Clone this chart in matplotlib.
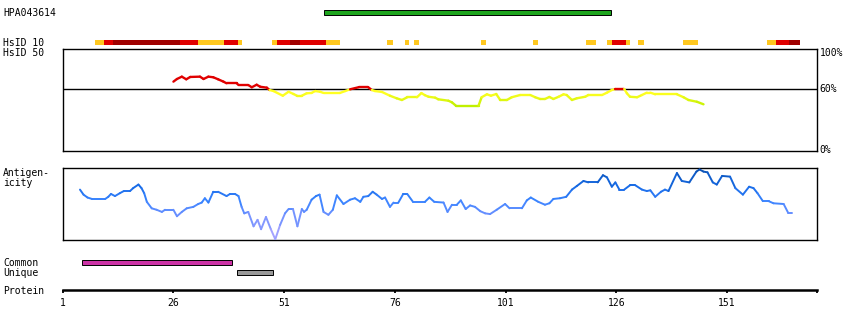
"""Protein feature overview: antibody target, HsID identity and antigenicity."""

import matplotlib

matplotlib.use("Agg")
import matplotlib.pyplot as plt
import numpy as np
from matplotlib.collections import LineCollection
from matplotlib.colors import LinearSegmentedColormap, Normalize

W, H = 850, 330
X_LEFT, X_RIGHT = 62.7, 817.3  # pixel span of the residue axis
RES_MIN, RES_MAX = 1, 171.4

# antibody target region
hpa_label = "HPA043614"
hpa_start, hpa_end = 60.0, 124.8

# HsID 10 blocks (0 = yellow, 1 = red, 2 = dark red)
hsid10_start = [8.3, 10.3, 12.4, 27.5, 31.6, 37.4, 40.6,
                48.3, 49.4, 52.3, 54.6, 60.5,
                74.3, 78.3, 80.4, 95.4, 107.2, 119.1,
                124.0, 125.1, 128.3, 130.9, 141.1,
                160.1, 162.1, 165.1]
hsid10_end = [10.3, 12.4, 27.5, 31.6, 37.4, 40.6, 41.5,
              49.4, 52.3, 54.6, 60.5, 63.6,
              75.6, 79.3, 81.4, 96.5, 108.3, 121.4,
              125.1, 128.3, 129.1, 132.3, 144.5,
              162.1, 165.1, 167.4]
hsid10_level = [0, 1, 2, 1, 0, 1, 0,
                0, 1, 2, 1, 0,
                0, 0, 0, 0, 0, 0,
                0, 1, 0, 0, 0,
                0, 1, 2]

# HsID 50 identity (%)
hsid50_res = [26.0, 26.8, 27.9, 28.9, 29.8, 32.0, 32.8, 33.9, 35.0, 36.1,
              37.3, 38.0, 40.3, 40.7, 42.9, 43.7, 44.8, 45.6, 47.1, 47.7,
              48.6, 50.7, 52.0, 53.1, 53.9, 55.0, 56.1, 57.2, 58.0, 59.1,
              59.9, 63.6, 64.8, 65.9, 67.8, 70.0, 70.8, 71.5, 73.1, 74.9,
              76.4, 77.6, 78.8, 81.0, 82.0, 82.8, 83.6, 85.1, 85.8, 88.1,
              88.9, 89.8, 94.9, 95.6, 96.8, 97.7, 98.9, 99.8, 101.3, 102.4,
              104.3, 106.6, 107.7, 108.8, 109.9, 110.9, 111.8, 113.0, 114.1, 114.8,
              116.0, 117.1, 119.0, 119.7, 122.8, 123.9, 125.0, 125.8, 127.8, 128.4,
              129.1, 130.7, 131.8, 132.9, 133.7, 134.8, 139.7, 141.2, 142.3, 144.2,
              145.7]
hsid50_pct = [67.5, 70.1, 72.4, 69.8, 72.1, 72.4, 70.1, 72.4, 71.8, 69.8,
              67.5, 65.9, 65.9, 64.2, 64.2, 62.0, 64.5, 62.5, 61.6, 59.3,
              58.3, 53.7, 57.6, 55.4, 53.7, 53.7, 56.1, 56.4, 58.3, 57.6,
              56.4, 56.4, 58.3, 60.0, 62.0, 62.0, 59.3, 58.3, 57.4, 53.7,
              51.2, 49.5, 52.2, 52.2, 56.3, 54.2, 52.7, 51.8, 50.2, 48.8,
              47.2, 43.9, 43.9, 52.2, 55.1, 53.7, 55.4, 49.5, 49.5, 52.2,
              54.4, 54.4, 52.2, 50.5, 50.5, 52.5, 50.5, 52.7, 55.1, 54.4,
              49.5, 51.2, 52.7, 54.4, 54.4, 56.7, 59.3, 60.3, 60.3, 56.1,
              52.7, 52.2, 54.4, 56.7, 56.7, 55.1, 55.1, 52.2, 49.5, 47.8,
              45.3]

# antigenicity (relative 0..1)
antigen_res = [4.9, 5.7, 6.6, 7.6, 10.6, 11.3, 11.9, 12.8, 13.9, 14.8,
               16.2, 16.9, 18.1, 18.8, 19.4, 20.0, 21.1, 22.2, 23.4, 24.1,
               26.0, 26.8, 27.9, 29.0, 30.5, 31.6, 32.4, 33.1, 33.9, 35.0,
               36.1, 38.0, 38.8, 39.9, 40.7, 41.4, 42.0, 42.9, 44.1, 45.0,
               45.8, 46.9, 48.0, 49.0, 50.1, 51.2, 52.0, 53.0, 54.0, 55.0,
               55.5, 56.1, 57.2, 58.2, 59.0, 59.9, 61.0, 62.0, 62.9, 64.4,
               65.9, 67.0, 68.2, 68.9, 70.0, 71.0, 71.9, 73.1, 73.8, 74.9,
               75.7, 76.8, 77.9, 78.8, 80.1, 82.8, 83.8, 84.9, 87.0, 87.9,
               88.9, 90.0, 90.9, 92.0, 93.0, 94.1, 95.3, 96.4, 97.5, 99.0,
               100.9, 101.9, 104.7, 105.8, 106.7, 108.4, 109.9, 110.9, 111.8, 113.3,
               114.7, 116.0, 117.1, 118.6, 119.7, 121.8, 123.0, 123.9, 125.0, 125.8,
               126.7, 127.8, 129.1, 130.3, 131.8, 132.9, 133.7, 134.8, 136.1, 137.0,
               137.8, 139.7, 140.8, 142.5, 144.1, 144.8, 145.7, 146.6, 147.8, 148.7,
               149.9, 151.7, 152.9, 154.6, 156.0, 157.0, 157.9, 159.1, 160.4, 161.5,
               163.8, 164.8, 165.7]
antigen_val = [0.70, 0.63, 0.59, 0.57, 0.57, 0.60, 0.64, 0.61, 0.65, 0.68,
               0.68, 0.72, 0.77, 0.72, 0.65, 0.53, 0.44, 0.42, 0.39, 0.42,
               0.42, 0.33, 0.39, 0.44, 0.46, 0.50, 0.52, 0.58, 0.52, 0.67,
               0.67, 0.61, 0.64, 0.64, 0.61, 0.46, 0.37, 0.39, 0.19, 0.28,
               0.15, 0.32, 0.15, 0.01, 0.21, 0.37, 0.43, 0.43, 0.19, 0.43,
               0.39, 0.42, 0.56, 0.61, 0.63, 0.39, 0.35, 0.42, 0.62, 0.50,
               0.56, 0.58, 0.53, 0.60, 0.61, 0.67, 0.63, 0.57, 0.59, 0.46,
               0.52, 0.52, 0.64, 0.64, 0.53, 0.53, 0.59, 0.53, 0.52, 0.39,
               0.49, 0.49, 0.55, 0.43, 0.48, 0.46, 0.40, 0.37, 0.36, 0.42,
               0.50, 0.44, 0.44, 0.55, 0.59, 0.53, 0.49, 0.51, 0.57, 0.58,
               0.60, 0.70, 0.75, 0.82, 0.80, 0.80, 0.90, 0.87, 0.74, 0.80,
               0.70, 0.70, 0.76, 0.76, 0.70, 0.68, 0.69, 0.60, 0.67, 0.70,
               0.68, 0.93, 0.82, 0.80, 0.95, 0.98, 0.95, 0.94, 0.80, 0.77,
               0.89, 0.88, 0.72, 0.63, 0.74, 0.72, 0.65, 0.54, 0.54, 0.51,
               0.50, 0.38, 0.38]

# common / unique regions
common_start, common_end = 5.4, 39.3
unique_start, unique_end = 40.4, 48.4

tick_res = [1, 26, 51, 76, 101, 126, 151]

HSID10_COLORS = ["#ffc820", "#e00000", "#a00000"]
FONT = dict(family="DejaVu Sans Mono", fontsize=7, color="black")


def px_axes(fig, top, bottom):
    """Axes spanning the residue range between two pixel rows."""
    return fig.add_axes([X_LEFT / W, 1 - bottom / H,
                         (X_RIGHT - X_LEFT) / W, (bottom - top) / H])


def label(fig, x, y, s, **kw):
    fig.text(x / W, 1 - y / H, s, va="baseline", **FONT, **kw)


def segments(x, y):
    pts = np.column_stack([x, y])
    return np.stack([pts[:-1], pts[1:]], axis=1)


fig = plt.figure(figsize=(W / 100, H / 100), dpi=100)

# top track: antibody bar and HsID 10 blocks (pixel-like y, inverted)
ax_top = px_axes(fig, 0, 47)
ax_top.set_xlim(RES_MIN, RES_MAX)
ax_top.set_ylim(47, 0)
ax_top.axis("off")
ax_top.barh(12.3, hpa_end - hpa_start, left=hpa_start, height=4.4,
            color="#1ea51e", edgecolor="black", linewidth=0.7)
for s, e, lvl in zip(hsid10_start, hsid10_end, hsid10_level):
    ax_top.barh(42.5, e - s, left=s, height=5, color=HSID10_COLORS[lvl], linewidth=0)

# HsID 50 panel
ax_id = px_axes(fig, 48.5, 150.5)
ax_id.set_xlim(RES_MIN, RES_MAX)
ax_id.set_ylim(0, 100)
ax_id.set_xticks([])
ax_id.set_yticks([])
for sp in ax_id.spines.values():
    sp.set_linewidth(1.0)
ax_id.axhline(60, color="black", linewidth=1.0)
id_cmap = LinearSegmentedColormap.from_list("id", ["#c0f000", "#ffff22"])
id_seg = segments(hsid50_res, hsid50_pct)
id_mid = id_seg[:, :, 1].mean(axis=1)
id_norm = Normalize(44, 56, clip=True)
id_colors = [("#e00000" if m >= 60 else id_cmap(id_norm(m))) for m in id_mid]
ax_id.add_collection(LineCollection(id_seg, colors=id_colors, linewidths=1.7,
                                    capstyle="round", zorder=3))

# antigenicity panel
ax_ag = px_axes(fig, 168, 240)
ax_ag.set_xlim(RES_MIN, RES_MAX)
ax_ag.set_ylim(0, 1)
ax_ag.set_xticks([])
ax_ag.set_yticks([])
for sp in ax_ag.spines.values():
    sp.set_linewidth(1.0)
ag_cmap = LinearSegmentedColormap.from_list(
    "ag", [(0.0, "#b4a8ff"), (0.35, "#6c90ff"), (0.55, "#3a84ff"),
           (0.75, "#166ae6"), (1.0, "#0a4fae")])
ag_seg = segments(antigen_res, antigen_val)
ag_mid = ag_seg[:, :, 1].mean(axis=1)
ax_ag.add_collection(LineCollection(ag_seg, colors=ag_cmap(ag_mid), linewidths=1.4,
                                    capstyle="round", zorder=3))

# bottom track: common / unique regions and protein axis
ax_bot = px_axes(fig, 250, 290.3)
ax_bot.set_xlim(RES_MIN, RES_MAX)
ax_bot.set_ylim(290.3, 250)
for side in ("top", "left", "right"):
    ax_bot.spines[side].set_visible(False)
ax_bot.spines["bottom"].set_linewidth(1.8)
ax_bot.set_yticks([])
ax_bot.set_xticks(tick_res + [RES_MAX])
ax_bot.set_xticklabels([str(t) for t in tick_res] + [""], family="DejaVu Sans Mono", fontsize=7)
ax_bot.tick_params(axis="x", direction="out", length=2.2, width=1.3, pad=3)
ax_bot.barh(262.5, common_end - common_start, left=common_start, height=4.4,
            color="#cc33a6", edgecolor="black", linewidth=0.7)
ax_bot.barh(272.3, unique_end - unique_start, left=unique_start, height=4.6,
            color="#999999", edgecolor="black", linewidth=0.7)

# row labels
label(fig, 3, 16, hpa_label)
label(fig, 3, 45.5, "HsID 10")
label(fig, 3, 55.5, "HsID 50")
label(fig, 3, 176.3, "Antigen-")
label(fig, 3, 186.3, "icity")
label(fig, 3, 266.3, "Common")
label(fig, 3, 275.8, "Unique")
label(fig, 3, 293.5, "Protein")
label(fig, 819.5, 55.8, "100%")
label(fig, 819.5, 92.5, "60%")
label(fig, 819.5, 153.5, "0%")

fig.savefig("out.png", dpi=100)
plt.close(fig)
